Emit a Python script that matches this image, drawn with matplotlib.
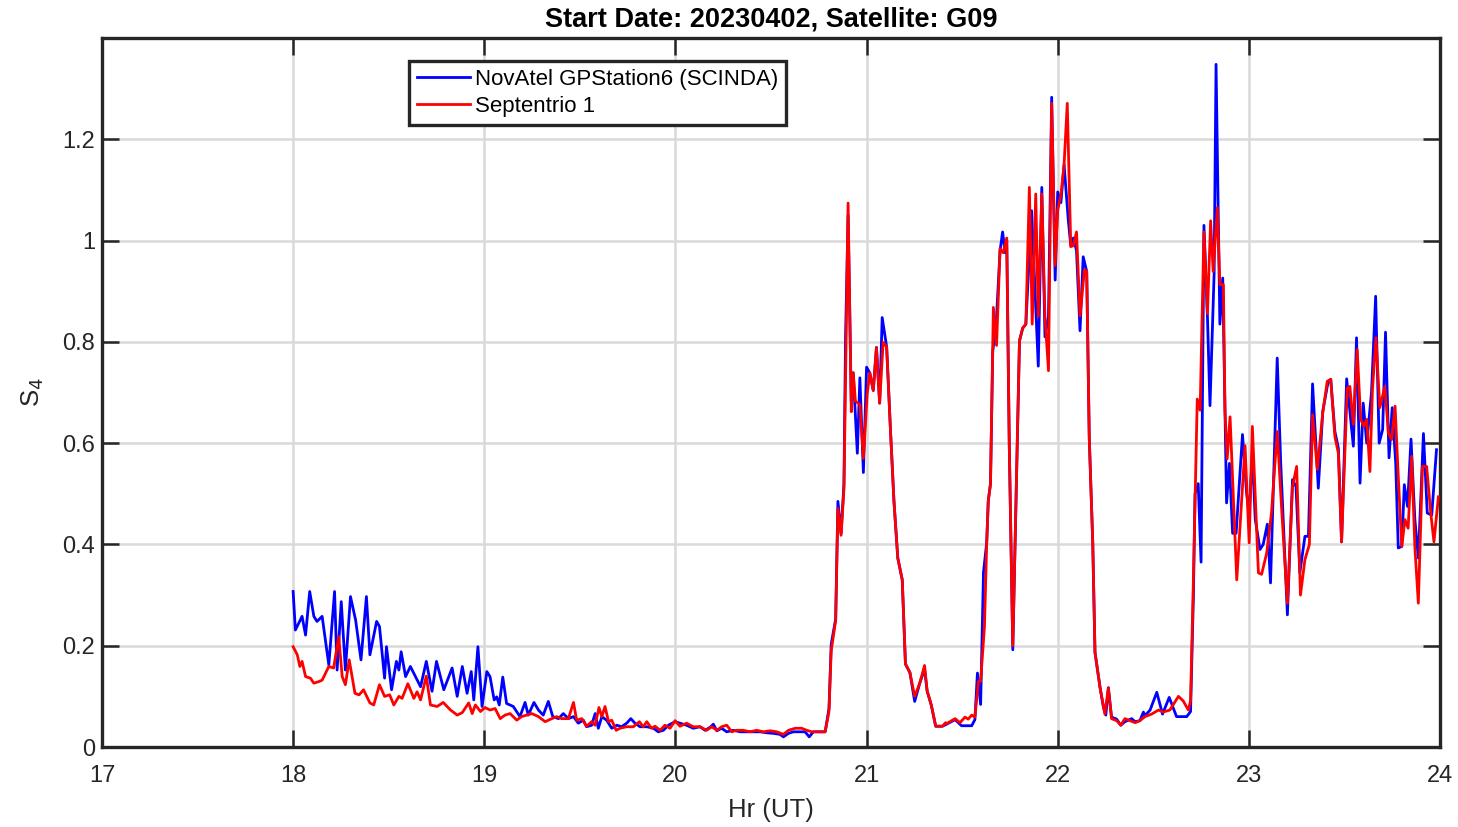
import numpy as np
import matplotlib
matplotlib.use("Agg")
import matplotlib.pyplot as plt

plt.rcParams['font.family'] = ['Liberation Sans', 'DejaVu Sans']

title = "Start Date: 20230402, Satellite: G09"
series_names = ["NovAtel GPStation6 (SCINDA)", "Septentrio 1"]
x_ticks = [17, 18, 19, 20, 21, 22, 23, 24]
y_ticks = [0, 0.2, 0.4, 0.6, 0.8, 1.0, 1.2]
y_tick_labels = ["0", "0.2", "0.4", "0.6", "0.8", "1", "1.2"]

# minutes after 18:00 UT, S4 values
novatel_min = [0, 0.7, 2.8, 3.9, 5.2, 6.5, 7.5, 9.1, 11.2, 13.0, 13.8, 15.1, 16.4, 18.0, 19.6, 21.3, 23.0, 24.1, 26.2, 27.1,
               28.7, 29.3, 30.9, 32.4, 33.2, 33.9, 35.3, 36.8, 38.4, 40.0, 41.8, 43.6, 45.0, 47.3, 49.9, 51.5, 53.1, 54.6, 55.9, 56.7,
               58.0, 59.3, 60.8, 61.8, 63.1, 63.9, 64.7, 65.8, 67.0, 69.1, 71.2, 72.8, 73.8, 75.6, 77.0, 78.5, 80.1, 81.5, 83.3, 84.8,
               86.4, 88.0, 89.5, 91.1, 92.1, 93.7, 94.8, 95.8, 96.9, 98.4, 100.0, 101.6, 103.1, 104.7, 106.0, 107.3, 108.9, 111.0, 113.1, 114.6,
               116.2, 117.8, 119.9, 121.4, 123.5, 125.6, 127.7, 129.3, 130.9, 131.9, 133.0, 134.5, 136.1, 138.2, 140.3, 142.4, 144.5, 146.6, 148.7, 150.7,
               152.8, 153.9, 155.5, 157.0, 159.1, 160.7, 162.0, 163.3, 165.4, 167.0, 168.2, 168.9, 170.3, 171.0, 172.0, 172.9, 173.4, 174.2, 175.2, 175.8,
               177.1, 177.9, 179.0, 180.0, 181.0, 182.1, 183.1, 184.1, 184.9, 186.3, 187.5, 188.6, 189.8, 191.2, 192.2, 193.6, 195.1, 196.7, 198.2, 199.0,
               200.3, 201.7, 203.8, 205.1, 207.8, 209.8, 213.0, 214.0, 214.8, 215.8, 216.7, 217.7, 218.2, 218.9, 219.6, 220.8, 221.9, 222.7, 223.5, 224.0,
               224.8, 225.9, 228.0, 229.0, 230.0, 231.8, 233.9, 235.0, 236.0, 237.1, 238.1, 239.2, 240.0, 241.0, 242.0, 243.3, 244.1, 244.9, 245.9, 247.0,
               248.0, 249.1, 249.9, 251.0, 251.7, 253.3, 254.3, 255.1, 255.9, 256.9, 258.5, 259.8, 261.1, 263.2, 264.3, 265.8, 266.9, 267.4, 269.0, 271.1,
               272.9, 275.0, 277.3, 279.4, 280.5, 281.7, 282.6, 283.1, 284.1, 285.0, 285.9, 287.0, 287.8, 289.1, 289.7, 290.9, 291.8, 292.5, 293.0, 293.9,
               294.9, 296.0, 298.0, 299.3, 300.1, 301.1, 302.0, 303.5, 304.5, 305.8, 306.8, 308.9, 310.0, 312.1, 313.7, 314.8, 316.0, 317.6, 318.7, 320.0,
               321.8, 323.2, 324.9, 325.7, 327.0, 328.1, 329.1, 330.7, 332.8, 333.8, 334.9, 335.9, 337.0, 338.5, 339.8, 340.9, 342.0, 342.9, 344.0, 345.0,
               346.1, 346.9, 348.0, 348.8, 349.8, 350.9, 352.1, 353.2, 354.8, 356.0, 357.4, 358.9]
novatel_s4 = [0.307, 0.231, 0.258, 0.221, 0.307, 0.258, 0.248, 0.258, 0.162, 0.307, 0.152, 0.287, 0.152, 0.297, 0.251, 0.172, 0.297, 0.182, 0.248, 0.238,
              0.136, 0.198, 0.113, 0.169, 0.152, 0.188, 0.139, 0.159, 0.139, 0.119, 0.169, 0.110, 0.169, 0.113, 0.156, 0.100, 0.159, 0.106, 0.149, 0.093,
              0.198, 0.080, 0.149, 0.139, 0.093, 0.099, 0.083, 0.138, 0.086, 0.080, 0.060, 0.088, 0.063, 0.088, 0.073, 0.063, 0.090, 0.060, 0.056, 0.066,
              0.056, 0.060, 0.047, 0.053, 0.040, 0.043, 0.066, 0.037, 0.060, 0.053, 0.037, 0.043, 0.040, 0.047, 0.056, 0.047, 0.040, 0.040, 0.037, 0.030,
              0.033, 0.043, 0.050, 0.047, 0.043, 0.037, 0.040, 0.033, 0.039, 0.045, 0.032, 0.037, 0.030, 0.033, 0.030, 0.030, 0.030, 0.030, 0.028, 0.027,
              0.025, 0.020, 0.027, 0.030, 0.030, 0.030, 0.020, 0.030, 0.030, 0.030, 0.076, 0.203, 0.253, 0.485, 0.422, 0.520, 0.810, 1.050, 0.683, 0.739,
              0.580, 0.729, 0.542, 0.750, 0.739, 0.704, 0.789, 0.679, 0.848, 0.790, 0.626, 0.485, 0.373, 0.330, 0.164, 0.147, 0.090, 0.126, 0.154, 0.111,
              0.083, 0.041, 0.041, 0.045, 0.054, 0.042, 0.042, 0.054, 0.146, 0.084, 0.345, 0.403, 0.486, 0.520, 0.780, 0.850, 0.980, 1.017, 0.976, 1.000,
              0.594, 0.192, 0.802, 0.827, 0.835, 1.059, 0.752, 1.105, 0.810, 0.850, 1.283, 0.922, 1.096, 1.075, 1.150, 1.042, 0.990, 1.005, 0.980, 0.822,
              0.968, 0.939, 0.611, 0.403, 0.187, 0.117, 0.080, 0.063, 0.117, 0.059, 0.055, 0.043, 0.050, 0.056, 0.050, 0.052, 0.069, 0.062, 0.073, 0.108,
              0.065, 0.098, 0.060, 0.060, 0.060, 0.070, 0.300, 0.500, 0.520, 0.365, 1.030, 0.850, 0.674, 0.935, 1.348, 0.835, 0.926, 0.665, 0.482, 0.560,
              0.422, 0.422, 0.617, 0.501, 0.460, 0.580, 0.450, 0.390, 0.400, 0.440, 0.324, 0.768, 0.561, 0.261, 0.528, 0.514, 0.344, 0.416, 0.416, 0.717,
              0.511, 0.663, 0.722, 0.726, 0.623, 0.590, 0.405, 0.727, 0.594, 0.808, 0.521, 0.679, 0.600, 0.700, 0.890, 0.600, 0.627, 0.819, 0.571, 0.670,
              0.560, 0.393, 0.396, 0.518, 0.475, 0.608, 0.450, 0.373, 0.619, 0.462, 0.458, 0.587]

septentrio_min = [0, 1.3, 2.1, 2.8, 3.9, 5.4, 6.5, 8.0, 9.1, 11.2, 12.7, 14.3, 15.4, 16.4, 17.6, 19.4, 20.7, 22.1, 24.1, 25.3,
                  27.1, 28.7, 30.3, 31.6, 33.2, 34.2, 36.0, 37.9, 38.9, 40.0, 41.8, 43.1, 45.2, 47.1, 49.4, 51.5, 53.1, 55.1, 56.2, 57.2,
                  58.8, 60.2, 61.8, 63.4, 65.0, 66.5, 68.1, 70.2, 71.7, 73.3, 74.9, 77.0, 79.1, 81.2, 82.7, 84.3, 86.4, 88.0, 89.0, 90.6,
                  92.1, 93.7, 94.8, 96.0, 96.9, 97.9, 99.0, 100.0, 101.4, 102.6, 104.7, 106.8, 108.7, 109.9, 111.0, 112.5, 113.6, 115.2, 116.7, 118.3,
                  119.9, 121.4, 123.5, 125.6, 127.7, 129.8, 131.4, 133.0, 134.5, 136.1, 137.7, 139.2, 141.3, 143.4, 145.5, 147.6, 149.7, 151.8, 153.9, 155.5,
                  157.6, 159.6, 161.2, 162.8, 164.9, 167.0, 168.2, 168.9, 170.3, 171.0, 172.0, 172.9, 173.6, 174.2, 175.2, 175.8, 176.5, 177.9, 179.0, 180.2,
                  181.0, 182.1, 183.1, 184.1, 185.2, 186.3, 187.5, 188.6, 189.8, 191.2, 192.2, 193.6, 195.1, 196.7, 198.2, 199.0, 200.3, 201.7, 203.8, 204.8,
                  205.1, 207.8, 209.3, 210.9, 211.9, 213.0, 214.0, 215.1, 215.8, 217.0, 217.7, 218.2, 218.9, 219.8, 220.8, 221.9, 222.9, 224.0, 224.8, 225.9,
                  228.0, 229.0, 230.0, 231.1, 232.0, 233.1, 233.9, 235.0, 236.0, 237.1, 238.1, 239.2, 240.0, 241.0, 242.0, 243.0, 244.1, 244.9, 245.9, 247.0,
                  248.4, 249.1, 249.9, 251.0, 251.7, 253.3, 254.8, 255.9, 256.9, 258.5, 259.8, 261.1, 262.7, 264.3, 265.8, 267.4, 269.5, 271.6, 273.1, 275.2,
                  277.9, 279.4, 281.0, 281.7, 282.6, 283.8, 284.7, 285.9, 287.0, 288.0, 288.8, 290.1, 290.9, 292.0, 292.5, 293.2, 294.1, 296.2, 298.8, 300.1,
                  301.1, 303.0, 304.0, 305.6, 307.1, 308.9, 310.3, 312.1, 313.7, 315.0, 316.2, 317.6, 319.0, 320.0, 321.5, 323.2, 324.6, 325.7, 327.0, 328.1,
                  329.1, 330.9, 331.7, 332.8, 334.0, 335.1, 336.1, 337.0, 338.0, 338.8, 339.9, 341.1, 342.7, 343.8, 344.8, 345.9, 346.9, 348.0, 349.0, 350.0,
                  351.1, 352.1, 353.2, 354.5, 355.8, 357.1, 358.1, 359.5]
septentrio_s4 = [0.198, 0.182, 0.159, 0.169, 0.139, 0.136, 0.126, 0.129, 0.132, 0.159, 0.156, 0.218, 0.139, 0.123, 0.172, 0.106, 0.103, 0.113, 0.087, 0.083,
                 0.123, 0.100, 0.103, 0.083, 0.100, 0.096, 0.125, 0.096, 0.109, 0.093, 0.140, 0.083, 0.080, 0.088, 0.073, 0.063, 0.068, 0.087, 0.066, 0.083,
                 0.070, 0.078, 0.073, 0.076, 0.056, 0.063, 0.066, 0.053, 0.060, 0.063, 0.066, 0.060, 0.050, 0.056, 0.060, 0.056, 0.056, 0.088, 0.053, 0.056,
                 0.041, 0.050, 0.043, 0.078, 0.060, 0.080, 0.050, 0.053, 0.033, 0.037, 0.040, 0.040, 0.050, 0.040, 0.050, 0.037, 0.041, 0.033, 0.043, 0.037,
                 0.052, 0.041, 0.047, 0.040, 0.040, 0.033, 0.040, 0.033, 0.040, 0.043, 0.030, 0.033, 0.033, 0.030, 0.033, 0.030, 0.032, 0.030, 0.025, 0.033,
                 0.037, 0.037, 0.033, 0.030, 0.030, 0.030, 0.070, 0.190, 0.250, 0.471, 0.418, 0.510, 0.810, 1.074, 0.662, 0.739, 0.683, 0.676, 0.570, 0.697,
                 0.739, 0.704, 0.789, 0.679, 0.799, 0.790, 0.626, 0.485, 0.373, 0.330, 0.164, 0.147, 0.100, 0.126, 0.161, 0.111, 0.083, 0.041, 0.041, 0.048,
                 0.046, 0.056, 0.048, 0.059, 0.055, 0.063, 0.059, 0.130, 0.130, 0.237, 0.400, 0.486, 0.520, 0.868, 0.793, 0.984, 0.976, 1.005, 0.594, 0.200,
                 0.802, 0.827, 0.835, 1.105, 0.835, 1.092, 0.850, 1.092, 0.850, 0.743, 1.271, 0.951, 1.060, 1.090, 1.150, 1.271, 0.988, 0.990, 1.017, 0.851,
                 0.943, 0.939, 0.611, 0.403, 0.187, 0.117, 0.065, 0.117, 0.056, 0.052, 0.043, 0.056, 0.052, 0.048, 0.052, 0.060, 0.065, 0.073, 0.069, 0.073,
                 0.100, 0.091, 0.073, 0.091, 0.334, 0.687, 0.665, 1.017, 0.856, 1.039, 0.939, 1.065, 0.913, 0.913, 0.665, 0.569, 0.652, 0.330, 0.595, 0.403,
                 0.633, 0.344, 0.341, 0.383, 0.462, 0.623, 0.469, 0.284, 0.514, 0.554, 0.300, 0.370, 0.400, 0.656, 0.548, 0.660, 0.722, 0.726, 0.613, 0.580,
                 0.405, 0.709, 0.712, 0.637, 0.785, 0.647, 0.633, 0.647, 0.544, 0.706, 0.808, 0.670, 0.712, 0.620, 0.607, 0.673, 0.534, 0.396, 0.449, 0.432,
                 0.574, 0.396, 0.284, 0.554, 0.554, 0.462, 0.405, 0.494]

W, H = 1458, 827
fig = plt.figure(figsize=(W / 100, H / 100), dpi=100)
ax = fig.add_axes([102 / W, 80 / H, 1338 / W, 709 / H])

t_nov = 18 + np.asarray(novatel_min) / 60.0
t_sep = 18 + np.asarray(septentrio_min) / 60.0
ax.plot(t_nov, novatel_s4, color='#0000ff', lw=2.0, label=series_names[0], zorder=3)
ax.plot(t_sep, septentrio_s4, color='#ff0000', lw=2.0, label=series_names[1], zorder=4)

ax.set_xlim(17, 24)
ax.set_ylim(0, 1.4)
ax.set_xticks(x_ticks)
ax.set_xticklabels([str(v) for v in x_ticks])
ax.set_yticks(y_ticks)
ax.set_yticklabels(y_tick_labels)
ax.grid(True, color='#d9d9d9', lw=1.8, zorder=0)
ax.set_axisbelow(True)
ax.tick_params(direction='in', length=12, width=1.8, top=True, right=True,
               labelsize=17, colors='#262626')
ax.tick_params(axis='x', pad=13)
ax.tick_params(axis='y', pad=5)
for s in ax.spines.values():
    s.set_linewidth(2.4)
    s.set_color('#262626')

ax.set_xlabel("Hr (UT)", fontsize=18.5, color='#262626', labelpad=8)
ax.set_ylabel(r"S$_4$", fontsize=18.5, color='#262626', labelpad=12)
ax.set_title(title, fontsize=19.5, fontweight='bold', color='black', pad=8)

leg = ax.legend(loc='upper left', bbox_to_anchor=(0.2295, 0.967), fontsize=16,
                frameon=True, fancybox=False, framealpha=1, edgecolor='#262626',
                handlelength=2.4, handletextpad=0.2, borderpad=0.35, labelspacing=0.25,
                borderaxespad=0)
leg.get_frame().set_linewidth(2.4)

fig.savefig("out.png", dpi=100)
